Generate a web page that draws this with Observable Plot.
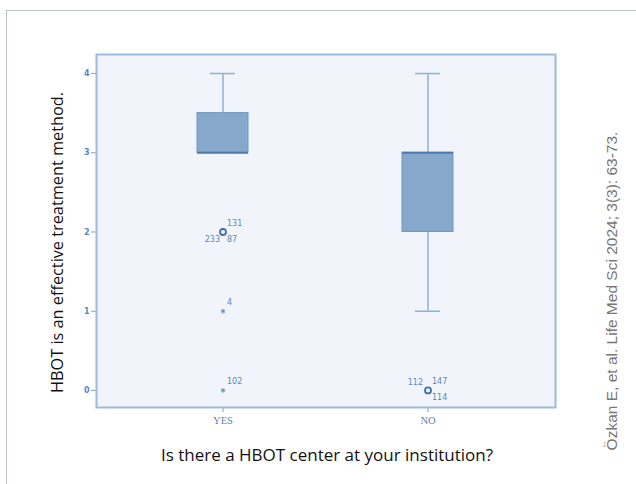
<!DOCTYPE html>
<html><head><meta charset="utf-8">
<script src="https://cdn.jsdelivr.net/npm/d3@7"></script>
<script src="https://cdn.jsdelivr.net/npm/@observablehq/plot@0.6"></script>
<style>
html,body{margin:0;padding:0;background:#fff;}
#wrap{position:relative;width:636px;height:484px;overflow:hidden;}
#border{position:absolute;left:6px;top:10px;width:700px;height:600px;border-left:1.5px solid #b8c0c8;border-top:1.5px solid #b8c0c8;}
#chart{position:absolute;left:0;top:0;}
</style></head><body><div id="wrap"><div id="border"></div><div id="chart"></div></div>
<script>
// Summary statistics
const groups = ["YES", "NO"];
const q1 = [3, 2];
const median = [3, 3];
const q3 = [3.5, 3];
const whiskerLow = [3, 1];
const whiskerHigh = [4, 4];

// Outliers / extremes
const outlierGroup = ["YES", "YES", "YES", "NO"];
const outlierValue = [2, 1, 0, 0];
const outlierShape = ["circle", "star", "star", "circle"];

// Case labels next to outliers
const labelGroup = ["YES", "YES", "YES", "YES", "YES", "NO", "NO", "NO"];
const labelValue = [2, 2, 2, 1, 0, 0, 0, 0];
const labelText = ["131", "233", "87", "4", "102", "112", "147", "114"];
const labelSide = ["upper-right", "lower-left", "lower-right", "upper-right", "upper-right", "upper-left", "upper-right", "lower-right"];

const yTicks = [0, 1, 2, 3, 4];
const yTitle = "HBOT is an effective treatment method.";
const xTitle = "Is there a HBOT center at your institution?";
const citation = "Özkan E, et al. Life Med Sci 2024; 3(3): 63-73.";

const boxes = groups.map((g, i) => ({group: g, q1: q1[i], median: median[i], q3: q3[i], lo: whiskerLow[i], hi: whiskerHigh[i]}));
const outliers = outlierGroup.map((g, i) => ({group: g, value: outlierValue[i], shape: outlierShape[i]}));
const labels = labelGroup.map((g, i) => ({group: g, value: labelValue[i], text: labelText[i], side: labelSide[i]}));

const sideOpts = {
  "upper-right": {textAnchor: "start", dx: 4, dy: -9},
  "lower-left": {textAnchor: "end", dx: -3, dy: 7},
  "lower-right": {textAnchor: "start", dx: 4, dy: 7},
  "upper-left": {textAnchor: "end", dx: -5, dy: -8}
};

const blue = "#5b86b9";
const labelMarks = Object.entries(sideOpts).map(([side, o]) =>
  Plot.text(labels.filter(d => d.side === side), {
    x: "group", y: "value", text: "text", fill: blue, fontSize: 8,
    fontFamily: "DejaVu Sans", ...o
  })
);

const chart = Plot.plot({
  width: 636,
  height: 484,
  marginLeft: 96,
  marginRight: 81,
  marginTop: 54,
  marginBottom: 77,
  style: {background: "transparent", color: blue},
  x: {type: "band", domain: groups, paddingInner: 0.75, paddingOuter: 0.49, label: null},
  y: {domain: [-0.215, 4.24], label: null},
  marks: [
    Plot.frame({fill: "#f1f5fb", stroke: null}),
    // whiskers
    Plot.ruleX(boxes, {x: "group", y1: "lo", y2: "q1", stroke: "#8fb1d2", strokeWidth: 1.5}),
    Plot.ruleX(boxes, {x: "group", y1: "q3", y2: "hi", stroke: "#8fb1d2", strokeWidth: 1.5}),
    Plot.tickY(boxes.filter(d => d.lo < d.q1), {x: "group", y: "lo", stroke: "#8fb1d2", strokeWidth: 1.5, insetLeft: 13, insetRight: 13}),
    Plot.tickY(boxes, {x: "group", y: "hi", stroke: "#8fb1d2", strokeWidth: 1.5, insetLeft: 13, insetRight: 13}),
    // boxes
    Plot.barY(boxes, {x: "group", y1: "q1", y2: "q3", fill: "#86a8cb", stroke: "#6f97c1", strokeWidth: 1}),
    Plot.tickY(boxes, {x: "group", y: "median", stroke: "#4d7aab", strokeWidth: 2}),
    // outliers
    Plot.dot(outliers.filter(d => d.shape === "circle"), {x: "group", y: "value", r: 3, stroke: "#3f70a6", strokeWidth: 1.8, fill: "none"}),
    Plot.dot(outliers.filter(d => d.shape === "star"), {x: "group", y: "value", r: 2.2, symbol: "asterisk", stroke: "#5b86b9", strokeWidth: 1}),
    ...labelMarks,
    // axes
    Plot.axisY({ticks: yTicks, tickFormat: "d", tickSize: 5, tickPadding: 2, fontSize: 8, fontWeight: "bold", fontFamily: "DejaVu Sans", stroke: "#7fa3c9", fill: blue, label: null}),
    Plot.axisX({tickSize: 5, tickPadding: 4, fontSize: 10.5, fontFamily: "Liberation Serif", stroke: "#7fa3c9", fill: "#5f84ae", label: null}),
    Plot.frame({stroke: "#9dbbda", strokeWidth: 2}),
    // titles
    Plot.text([yTitle], {text: d => d, frameAnchor: "left", textAnchor: "middle", dx: -39, dy: 11.5, rotate: -90, fontSize: 16.3, fontFamily: "Open Sans", fill: "#111"}),
    Plot.text([xTitle], {text: d => d, frameAnchor: "bottom", textAnchor: "middle", dx: 1, dy: 53, fontSize: 17, fontFamily: "Open Sans", fill: "#111"}),
    Plot.text([citation], {text: d => d, frameAnchor: "right", textAnchor: "middle", dx: 57, dy: 60, rotate: -90, fontSize: 15.5, fontFamily: "Liberation Sans", fill: "#777"})
  ]
});
document.getElementById("chart").appendChild(chart);
</script>
</body></html>
